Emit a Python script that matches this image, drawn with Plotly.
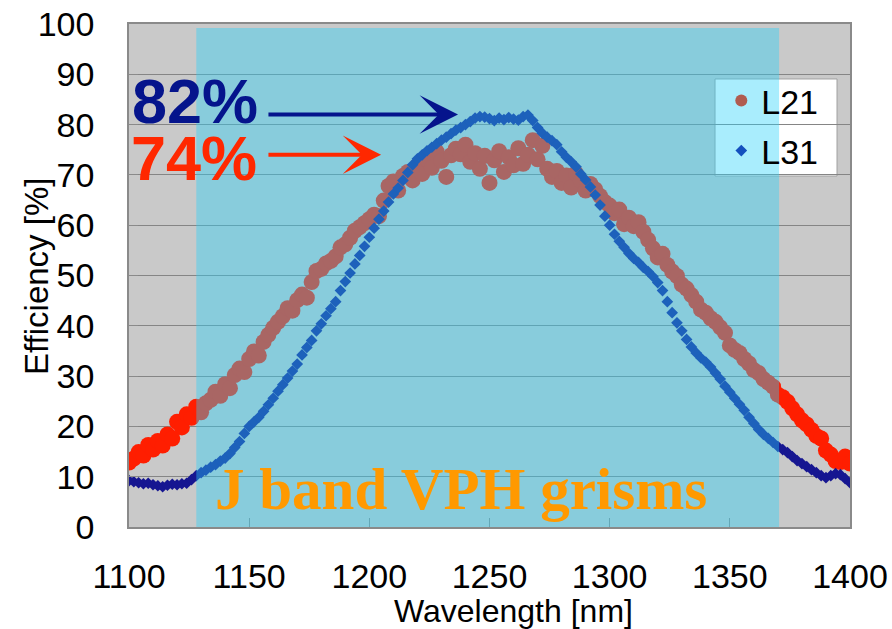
import plotly.graph_objects as go

# Wavelength grid [nm]
wavelength = list(range(1100, 1401, 2))

# Diffraction efficiency [%] of the two grisms
eff_L21 = [
    12.8, 13.6, 14.9, 14.2, 16.3, 15.4, 17.1, 16.2, 18.4, 17.6,
    20.9, 19.8, 22.4, 21.7, 23.9, 22.8, 24.6, 25.3, 26.9, 26.1,
    28.4, 27.6, 30.2, 31.5, 30.8, 33.4, 34.9, 34.1, 36.8, 38.2,
    39.6, 40.8, 41.9, 43.5, 43.0, 45.1, 46.2, 45.6, 48.7, 50.9,
    51.3, 52.4, 52.9, 53.8, 55.6, 56.2, 57.5, 58.9, 59.6, 60.4,
    61.2, 62.1, 61.8, 64.9, 67.8, 68.7, 66.9, 69.8, 70.6, 68.9,
    71.8, 70.2, 73.1, 71.4, 74.6, 72.8, 69.6, 73.9, 75.2, 74.1,
    76.0, 72.6, 74.3, 71.2, 73.8, 68.4, 72.9, 74.7, 70.6, 73.5,
    71.9, 75.3, 72.2, 74.0, 76.9, 73.1, 75.8, 71.2, 69.6, 70.8,
    68.4, 69.9, 67.5, 70.3, 68.8, 66.9, 68.2, 67.1, 65.8, 64.6,
    63.9, 62.4, 63.1, 60.2, 61.5, 59.8, 60.6, 58.7, 57.1, 55.4,
    53.6, 54.3, 52.1, 50.8, 49.9, 48.2, 47.4, 46.1, 44.8, 43.2,
    42.6, 41.5, 40.8, 39.7, 38.6, 36.1, 35.2, 34.6, 33.4, 32.5,
    31.2, 30.6, 29.4, 28.7, 27.9, 26.3, 25.8, 24.9, 23.6, 22.4,
    21.2, 20.4, 19.3, 18.1, 17.6, 15.2, 14.4, 13.1, 12.9, 14.0,
    12.6,
]

eff_L31 = [
    9.2, 9.0, 8.8, 8.6, 8.7, 8.4, 8.2, 8.0, 8.3, 8.5,
    8.4, 8.6, 8.7, 9.4, 10.2, 10.8, 11.3, 11.9, 12.4, 13.1,
    13.7, 14.6, 15.8, 17.0, 18.6, 20.0, 20.9, 21.8, 23.0, 24.3,
    25.6, 27.0, 28.3, 29.6, 31.0, 32.4, 34.2, 35.7, 37.1, 39.0,
    40.4, 42.0, 43.4, 44.8, 47.0, 48.8, 50.5, 52.3, 54.0, 55.8,
    57.6, 59.4, 61.2, 62.8, 64.6, 66.2, 67.4, 68.9, 70.5, 72.0,
    73.2, 74.0, 74.8, 75.5, 76.2, 76.9, 77.5, 78.2, 78.9, 79.4,
    80.0, 80.6, 81.3, 81.6, 81.5, 81.2, 80.8, 81.3, 81.0, 81.4,
    81.1, 80.9, 81.6, 81.9, 80.8, 79.4, 78.3, 77.5, 76.8, 76.0,
    74.6, 73.5, 72.6, 71.6, 70.2, 69.0, 67.6, 66.0, 64.0, 61.8,
    60.0, 58.2, 56.8, 55.6, 54.4, 53.4, 52.6, 51.6, 50.8, 49.8,
    48.6, 47.0, 44.8, 42.6, 40.6, 39.0, 37.3, 35.8, 34.6, 33.6,
    32.8, 31.8, 30.6, 29.4, 28.0, 26.8, 25.6, 24.4, 23.2, 21.8,
    20.6, 19.4, 18.4, 17.6, 16.8, 16.0, 15.4, 14.8, 14.0, 13.2,
    12.6, 12.0, 11.4, 10.8, 10.2, 9.8, 10.2, 10.6, 10.4, 9.6,
    8.8,
]

# Peak efficiencies quoted on the chart
peak_L31 = 82
peak_L21 = 74

# J band window [nm]
band_lo, band_hi = 1128, 1370.5

x_ticks = [1100, 1150, 1200, 1250, 1300, 1350, 1400]
y_ticks = list(range(0, 101, 10))

SANS = "Liberation Sans, Arial, sans-serif"
RED = "rgb(255,30,0)"
NAVY = "rgb(22,22,145)"

fig = go.Figure()

fig.add_trace(go.Scatter(
    x=wavelength, y=eff_L21, mode="markers", showlegend=False,
    marker=dict(symbol="circle", size=16, color=RED, line=dict(width=0)),
))
fig.add_trace(go.Scatter(
    x=wavelength, y=eff_L31, mode="markers", showlegend=False,
    marker=dict(symbol="diamond", size=9, color=NAVY, line=dict(width=0)),
))

# legend entries in the tint they take inside the band
fig.add_trace(go.Scatter(
    x=[None], y=[None], mode="markers", name="L21", legendgroup="a",
    marker=dict(symbol="circle", size=12, color="rgb(176,92,80)"),
))
fig.add_trace(go.Scatter(
    x=[None], y=[None], mode="markers", name="L31", legendgroup="b",
    marker=dict(symbol="diamond", size=9, color="rgb(20,80,190)"),
))

shapes = [
    # legend frame (sits under the band tint)
    dict(type="rect", xref="paper", yref="paper", layer="below",
         x0=0.8128, x1=0.982, y0=0.6978, y1=0.8907,
         fillcolor="white", line=dict(color="#a0a0a0", width=1)),
    # J band window
    dict(type="rect", xref="x", yref="y", layer="above",
         x0=band_lo, x1=band_hi, y0=0, y1=99.2,
         fillcolor="rgb(40,210,250)", opacity=0.4, line=dict(width=0)),
]

annotations = [
    # arrows to the peaks
    dict(x=1236.9, y=peak_L31, ax=1157.4, ay=peak_L31, xref="x", yref="y",
         axref="x", ayref="y", text="", showarrow=True, arrowhead=3,
         arrowsize=1.6, arrowwidth=4, arrowcolor="rgb(5,20,140)", standoff=0),
    dict(x=1204.9, y=peak_L21, ax=1157.4, ay=peak_L21, xref="x", yref="y",
         axref="x", ayref="y", text="", showarrow=True, arrowhead=3,
         arrowsize=1.6, arrowwidth=4, arrowcolor="rgb(255,40,0)", standoff=0),
    dict(x=1127.5, y=84.6, xref="x", yref="y", text=f"<b>{peak_L31}%</b>",
         showarrow=False, xanchor="center", yanchor="middle",
         font=dict(family=SANS, size=63, color="rgb(5,20,140)")),
    dict(x=1127.0, y=73.3, xref="x", yref="y", text=f"<b>{peak_L21}%</b>",
         showarrow=False, xanchor="center", yanchor="middle",
         font=dict(family=SANS, size=63, color="rgb(255,40,0)")),
    dict(x=1238.2, y=7.6, xref="x", yref="y", text="<b>J band VPH grisms</b>",
         showarrow=False, xanchor="center", yanchor="middle",
         font=dict(family="Liberation Serif, Times New Roman, serif",
                   size=59, color="rgb(255,153,0)")),
    # axis titles
    dict(x=(513 - 129) / 721, y=(527 - 611) / 503, xref="paper", yref="paper",
         text="Wavelength [nm]", showarrow=False, xanchor="center",
         yanchor="middle", font=dict(family=SANS, size=32, color="black")),
    dict(x=(36 - 129) / 721, y=0.497, xref="paper", yref="paper",
         text="Efficiency [%]", showarrow=False, textangle=-90,
         xanchor="center", yanchor="middle",
         font=dict(family=SANS, size=33, color="black")),
]

fig.update_layout(
    width=892, height=629,
    margin=dict(l=129, r=42, t=24, b=102),
    paper_bgcolor="white",
    plot_bgcolor="rgb(201,201,201)",
    showlegend=True,
    legend=dict(x=0.8215, y=0.905, xanchor="left", yanchor="top",
                bgcolor="rgba(0,0,0,0)", borderwidth=0,
                traceorder="grouped", tracegroupgap=3,
                font=dict(family=SANS, size=34, color="black")),
    shapes=shapes,
    annotations=annotations,
)

fig.update_xaxes(
    range=[1100, 1400], tickvals=x_ticks, ticktext=[str(v) for v in x_ticks],
    showgrid=False, zeroline=False, automargin=False,
    showline=True, linecolor="#8a8a8a", linewidth=1.5, mirror=True,
    ticks="inside", ticklen=9, tickcolor="#8a8a8a", tickwidth=1.3,
    ticklabelstandoff=18,
    tickfont=dict(family=SANS, size=34, color="black"),
)
fig.update_yaxes(
    range=[0, 100], tickvals=y_ticks, ticktext=[str(v) for v in y_ticks],
    showgrid=True, gridcolor="#858585", gridwidth=1.3, zeroline=False,
    automargin=False,
    showline=True, linecolor="#8a8a8a", linewidth=1.5, mirror=True,
    ticks="inside", ticklen=9, tickcolor="#8a8a8a", tickwidth=1.3,
    ticklabelstandoff=26,
    tickfont=dict(family=SANS, size=34, color="black"),
)

fig.write_html("out.html")
